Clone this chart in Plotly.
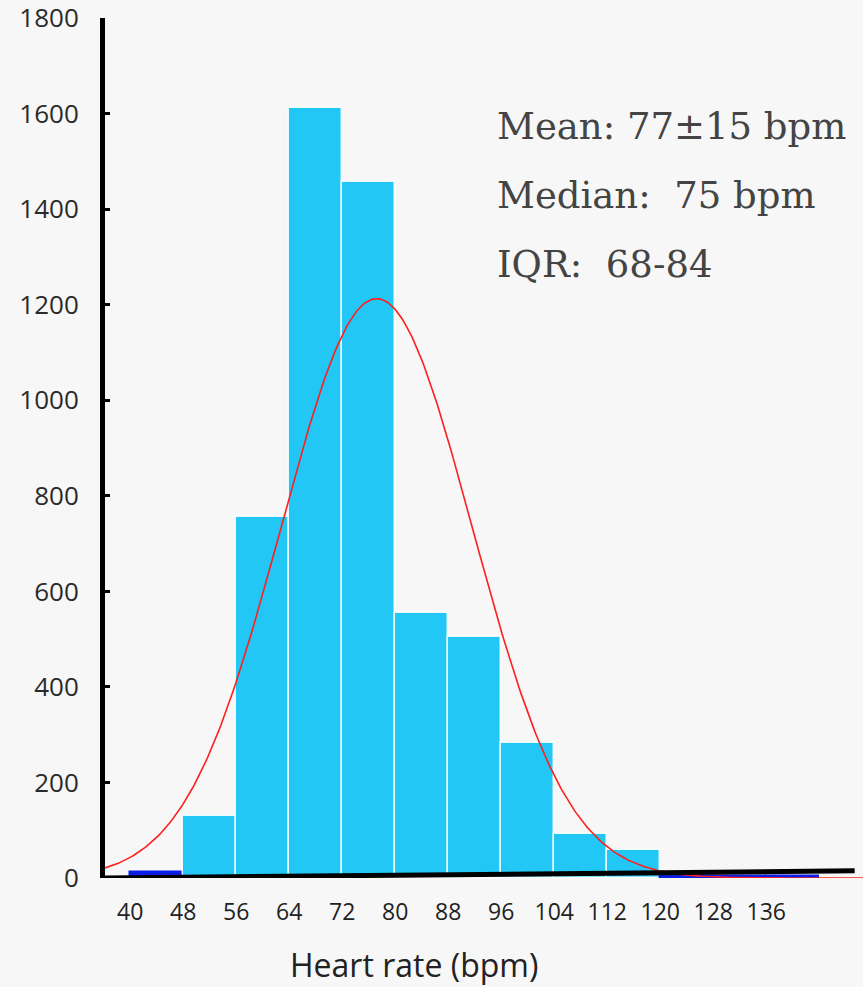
import numpy as np
import plotly.graph_objects as go

# Histogram of heart rate, 8 bpm bins (left edges)
bin_left = [40, 48, 56, 64, 72, 80, 88, 96, 104, 112, 120, 128, 136]
counts = [12, 130, 755, 1613, 1457, 555, 504, 282, 93, 59, 5, 4, 4]
BIN_WIDTH = 8

# Normal fit overlaid on the histogram
FIT_MEAN = 77.2
FIT_SD = 14.4

x_ticks = [40, 48, 56, 64, 72, 80, 88, 96, 104, 112, 120, 128, 136]
y_ticks = [0, 200, 400, 600, 800, 1000, 1200, 1400, 1600, 1800]

stats_lines = ["Mean: 77±15 bpm", "Median:  75 bpm", "IQR:  68-84"]

X_RANGE = [36.2, 150.6]
Y_RANGE = [0, 1800.6]

BAR_COLOR = "#22C7F5"
SMALL_BAR_COLOR = "#0A1EE6"
BG = "#F7F7F7"

centers = [b + BIN_WIDTH / 2 for b in bin_left]
colors = [SMALL_BAR_COLOR if c < 20 else BAR_COLOR for c in counts]
edge_colors = [SMALL_BAR_COLOR if c < 20 else "rgba(255,255,255,0.85)" for c in counts]

n_total = sum(counts)
xs = np.linspace(X_RANGE[0], X_RANGE[1], 400)
fit = n_total * BIN_WIDTH / (FIT_SD * np.sqrt(2 * np.pi)) * np.exp(-0.5 * ((xs - FIT_MEAN) / FIT_SD) ** 2)

fig = go.Figure()
fig.add_trace(go.Bar(
    x=centers, y=counts, width=BIN_WIDTH,
    marker=dict(color=colors, line=dict(color=edge_colors, width=1.5)),
    hoverinfo="x+y", showlegend=False,
))
fig.add_trace(go.Scatter(
    x=xs, y=fit, mode="lines",
    line=dict(color="#FF1E1E", width=1.6),
    showlegend=False, hoverinfo="skip",
))

# Hand-drawn looking baseline, rising slightly to the right
fig.add_shape(type="line", xref="x domain", yref="y",
              x0=0, y0=0, x1=0.989, y1=15,
              line=dict(color="black", width=5), layer="above")

fig.update_layout(
    width=863, height=987,
    margin=dict(l=105, r=0, t=18, b=109),
    paper_bgcolor=BG, plot_bgcolor=BG,
    bargap=0,
    xaxis=dict(
        range=X_RANGE, showgrid=False, zeroline=False, showline=False,
        tickmode="array", tickvals=x_ticks, ticktext=[str(v) for v in x_ticks],
        ticks="", ticklabelstandoff=18, ticklabeloverflow="allow",
        tickfont=dict(family="Open Sans", size=23, color="#222222"),
    ),
    yaxis=dict(
        range=Y_RANGE, showgrid=False, zeroline=False,
        showline=True, linecolor="black", linewidth=5,
        tickmode="array", tickvals=y_ticks, ticktext=[str(v) for v in y_ticks],
        ticks="inside", ticklen=5, tickwidth=3, tickcolor="black",
        ticklabelstandoff=16, ticklabeloverflow="allow",
        tickfont=dict(family="Open Sans", size=26, color="#2a2a2a"),
    ),
)

# Summary statistics block
for i, line in enumerate(stats_lines):
    fig.add_annotation(
        xref="paper", yref="paper", x=0.5145, y=0.874 - i * 0.0805,
        xanchor="left", yanchor="middle", showarrow=False,
        text=line, font=dict(family="DejaVu Serif", size=37, color="#444444"),
    )

fig.add_annotation(
    xref="paper", yref="paper", x=0.4077, y=-0.101,
    xanchor="center", yanchor="middle", showarrow=False,
    text="Heart rate (bpm)", font=dict(family="Open Sans", size=32, color="#222222"),
)

fig.write_html("out.html")
